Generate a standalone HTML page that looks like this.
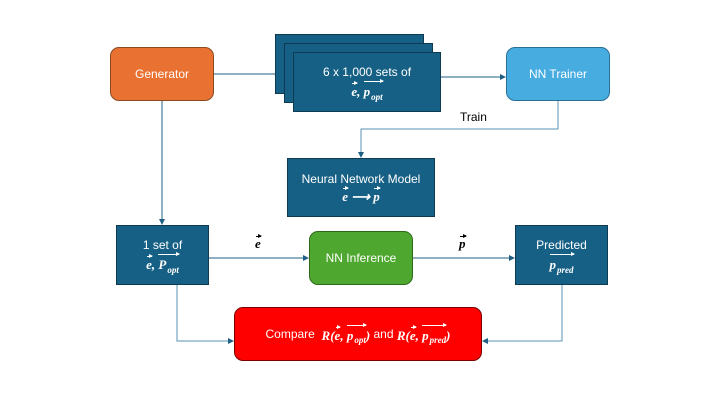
<!DOCTYPE html>
<html><head><style>
body{margin:0;width:720px;height:405px;background:#fff;position:relative;overflow:hidden;font-family:"Liberation Sans",sans-serif}
.b{position:absolute;box-sizing:border-box;color:#fff;font-size:12px;display:flex;flex-direction:column;align-items:center;justify-content:center;text-align:center;line-height:17px}
.d{background:#176085;border:1px solid #0e3a52}
.m{font-family:"Liberation Serif",serif;font-style:italic;font-weight:bold;font-size:13px;white-space:nowrap}
.v{position:relative;display:inline-block}
.v::before{content:"";position:absolute;left:1px;right:0;top:0px;border-top:1px solid currentColor}
.v::after{content:"";position:absolute;right:-1px;top:-2px;border-left:4px solid currentColor;border-top:2.5px solid transparent;border-bottom:2.5px solid transparent}
.o{position:relative;display:inline-block;padding-top:2px}
.o::before{content:"";position:absolute;left:0;right:0;top:0px;border-top:1px solid currentColor}
.o::after{content:"";position:absolute;right:-1px;top:-2px;border-left:4px solid currentColor;border-top:2.5px solid transparent;border-bottom:2.5px solid transparent}
sub{font-size:9px;line-height:0;margin-left:1px}
</style></head><body>
<svg width="720" height="405" style="position:absolute;left:0;top:0">
<defs><marker id="a" markerWidth="6" markerHeight="6" refX="5" refY="3" orient="auto"><path d="M0,0L6,3L0,6z" fill="#1f5f85"/></marker></defs>
<g stroke="#1f5f85" stroke-width="1" fill="none">
<line x1="214" y1="74" x2="275" y2="74"/>
<line x1="441" y1="77" x2="505" y2="77" marker-end="url(#a)"/>
<polyline points="558,101 558,129 361,129 361,157" marker-end="url(#a)" stroke="#5a93b5"/>
<line x1="162" y1="101" x2="162" y2="224" marker-end="url(#a)"/>
<line x1="209" y1="258" x2="308" y2="258" marker-end="url(#a)"/>
<line x1="413" y1="258" x2="514" y2="258" marker-end="url(#a)"/>
<polyline points="177,285 177,341 233,341" marker-end="url(#a)" stroke="#5a93b5"/>
<polyline points="562,285 562,341 483,341" marker-end="url(#a)" stroke="#5a93b5"/>
</g></svg>
<div class="b" style="left:110px;top:47px;width:104px;height:54px;background:#E97132;border:1px solid #8a4a20;border-radius:9px">Generator</div>
<div class="b d" style="left:275px;top:34px;width:149px;height:60px"></div>
<div class="b d" style="left:284px;top:43px;width:149px;height:60px"></div>
<div class="b d" style="left:293px;top:52px;width:148px;height:60px">6 x 1,000 sets of<span class="m"><span class="v">e</span>, <span class="o">p<sub>opt</sub></span></span></div>
<div class="b" style="left:506px;top:47px;width:104px;height:54px;background:#47ACE0;border:1px solid #2a6e94;border-radius:9px">NN Trainer</div>
<div style="position:absolute;left:460px;top:110px;font-size:12px">Train</div>
<div class="b d" style="left:287px;top:158px;width:148px;height:59px">Neural Network Model<span class="m"><span class="v">e</span> ⟶ <span class="v">p</span></span></div>
<div class="b d" style="left:116px;top:225px;width:93px;height:60px">1 set of<span class="m"><span class="v">e</span>, <span class="o">P<sub>opt</sub></span></span></div>
<div class="m" style="position:absolute;left:255px;top:236px"><span class="v">e</span></div>
<div class="b" style="left:309px;top:231px;width:104px;height:54px;background:#4EA72E;border:1px solid #2d6a1a;border-radius:9px">NN Inference</div>
<div class="m" style="position:absolute;left:459px;top:236px"><span class="v">p</span></div>
<div class="b d" style="left:515px;top:225px;width:93px;height:60px">Predicted<span class="m"><span class="o">p<sub>pred</sub></span></span></div>
<div class="b" style="left:234px;top:307px;width:248px;height:54px;background:#FF0000;border:1px solid #7a0000;border-radius:9px;flex-direction:row">Compare&nbsp;&nbsp;<span class="m">R(<span class="v">e</span>, <span class="o">p<sub>opt</sub></span>)</span>&nbsp;and&nbsp;<span class="m">R(<span class="v">e</span>, <span class="o">p<sub>pred</sub></span>)</span></div>
</body></html>
